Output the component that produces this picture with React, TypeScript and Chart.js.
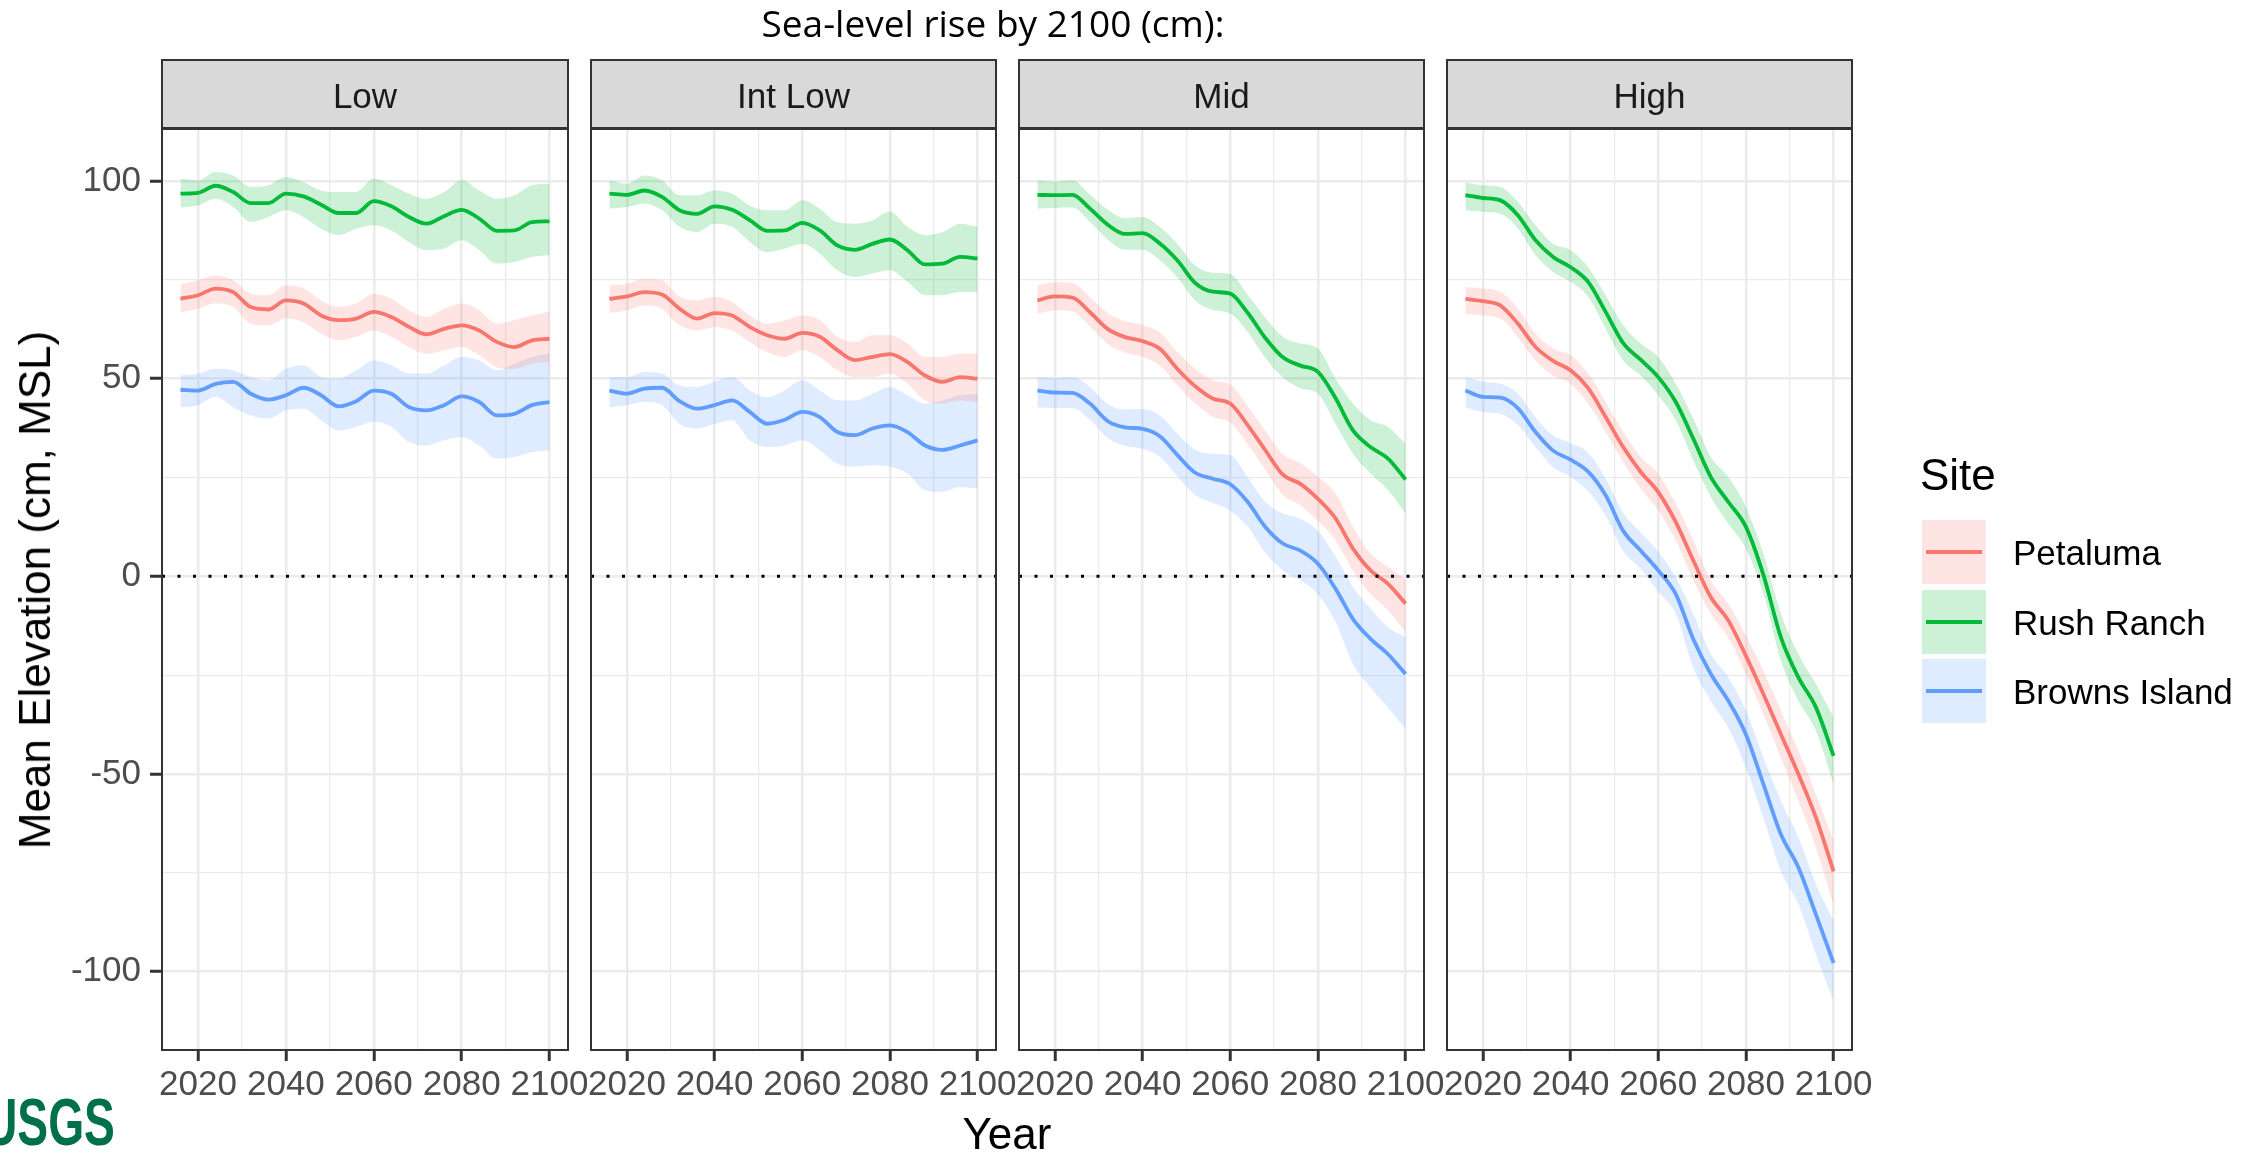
import React, { useEffect, useRef } from "react";
import { Chart, registerables } from "chart.js";

Chart.register(...registerables);

// ---------------- data ----------------
const YEARS = [2016, 2020, 2024, 2028, 2032, 2036, 2040, 2044, 2048, 2052, 2056, 2060, 2064, 2068, 2072, 2076, 2080, 2084, 2088, 2092, 2096, 2100];

const X_TICKS = [2020, 2030, 2040, 2050, 2060, 2070, 2080, 2090, 2100];
const X_LABEL_TICKS = [2020, 2040, 2060, 2080, 2100];
const Y_TICKS = [-100, -75, -50, -25, 0, 25, 50, 75, 100];
const Y_LABEL_TICKS = [-100, -50, 0, 50, 100];

const SCENARIOS = ["Low", "Int Low", "Mid", "High"];
const SITE_NAMES = ["Petaluma", "Rush Ranch", "Browns Island"];

// Low
const LOW_PET_MEAN = [70.2, 71.1, 72.8, 71.9, 68.1, 67.5, 69.8, 69.0, 66.0, 64.8, 65.2, 66.9, 65.6, 63.1, 61.2, 62.6, 63.5, 62.2, 59.3, 58.0, 59.7, 60.1];
const LOW_PET_LO = [66.9, 67.7, 69.1, 68.1, 63.9, 63.5, 65.2, 64.3, 61.4, 59.7, 60.6, 62.2, 60.6, 58.0, 56.3, 57.2, 58.0, 55.9, 52.9, 52.5, 53.8, 54.2];
const LOW_PET_HI = [73.9, 74.9, 76.1, 74.9, 71.5, 71.1, 73.6, 72.8, 69.8, 68.1, 69.0, 71.5, 70.2, 67.3, 65.6, 67.7, 69.0, 67.3, 63.9, 64.8, 66.0, 66.9];
const LOW_RUSH_MEAN = [96.8, 97.0, 98.8, 97.2, 94.4, 94.4, 96.8, 96.1, 94.0, 91.9, 91.9, 94.9, 93.6, 90.9, 89.2, 91.1, 92.7, 90.5, 87.4, 87.5, 89.6, 89.8];
const LOW_RUSH_LO = [93.3, 93.8, 95.5, 93.4, 89.6, 90.9, 92.6, 90.9, 87.9, 86.3, 87.9, 88.8, 87.5, 84.6, 82.5, 82.9, 85.0, 82.5, 79.1, 79.5, 80.8, 81.2];
const LOW_RUSH_HI = [100.6, 100.2, 102.3, 101.4, 98.5, 98.9, 101.0, 99.7, 97.6, 97.2, 97.2, 100.6, 98.9, 96.8, 95.5, 97.2, 100.2, 97.6, 95.5, 96.4, 98.9, 99.3];
const LOW_BROWNS_MEAN = [47.2, 47.0, 48.7, 49.2, 46.2, 44.7, 45.8, 47.7, 45.8, 43.0, 44.3, 47.0, 46.2, 42.8, 42.0, 43.3, 45.5, 44.1, 40.7, 41.1, 43.3, 44.1];
const LOW_BROWNS_LO = [42.8, 43.3, 45.4, 42.8, 40.7, 39.9, 42.0, 42.4, 39.5, 36.9, 37.8, 39.1, 37.8, 34.0, 33.1, 34.4, 35.2, 33.1, 29.8, 30.2, 31.4, 31.9];
const LOW_BROWNS_HI = [50.8, 51.3, 52.5, 52.1, 50.4, 49.6, 52.5, 53.4, 50.4, 50.0, 52.1, 54.6, 53.4, 51.3, 51.3, 53.4, 55.5, 54.6, 52.1, 53.8, 55.5, 56.3];

// Int Low
const IL_PET_MEAN = [70.2, 70.8, 71.9, 71.3, 67.7, 65.2, 66.6, 66.0, 63.1, 61.0, 60.1, 61.6, 60.6, 57.2, 54.7, 55.5, 56.2, 54.2, 50.8, 49.2, 50.4, 50.0];
const IL_PET_LO = [66.6, 67.3, 68.5, 67.7, 63.5, 62.2, 63.1, 62.2, 59.3, 56.7, 55.5, 57.2, 55.5, 52.1, 50.4, 50.4, 51.3, 48.7, 44.5, 43.7, 44.5, 44.1];
const IL_PET_HI = [73.6, 74.0, 75.3, 74.9, 70.7, 69.8, 70.7, 69.4, 66.0, 63.9, 64.8, 66.0, 64.8, 60.6, 59.3, 61.0, 61.0, 58.9, 55.5, 55.5, 56.3, 56.3];
const IL_RUSH_MEAN = [96.8, 96.5, 97.6, 96.0, 92.6, 91.7, 93.6, 92.7, 90.1, 87.4, 87.5, 89.4, 87.5, 83.7, 82.6, 84.1, 85.2, 82.5, 78.9, 79.1, 80.8, 80.4];
const IL_RUSH_LO = [93.0, 93.4, 94.3, 92.6, 88.4, 87.1, 89.2, 88.4, 84.6, 82.0, 82.9, 84.1, 81.6, 77.4, 75.7, 76.6, 77.4, 74.5, 71.1, 71.1, 71.9, 71.9];
const IL_RUSH_HI = [100.2, 99.3, 101.4, 100.2, 96.4, 96.4, 97.6, 96.8, 93.8, 92.6, 92.6, 95.1, 93.0, 89.6, 89.2, 90.1, 92.2, 88.4, 86.3, 87.1, 89.2, 88.4];
const IL_BROWNS_MEAN = [47.0, 46.2, 47.5, 47.7, 44.3, 42.4, 43.3, 44.5, 41.6, 38.6, 39.6, 41.6, 40.3, 36.5, 35.7, 37.4, 38.2, 36.5, 33.1, 32.0, 33.1, 34.4];
const IL_BROWNS_LO = [42.8, 43.3, 44.1, 43.3, 38.6, 37.4, 38.6, 39.5, 34.4, 32.7, 33.1, 34.4, 31.9, 28.5, 27.7, 28.1, 27.7, 26.0, 21.8, 21.4, 22.6, 22.2];
const IL_BROWNS_HI = [50.4, 50.4, 51.7, 51.3, 48.3, 47.9, 49.2, 50.4, 47.0, 45.3, 47.0, 49.6, 47.0, 44.5, 44.5, 46.2, 47.9, 45.8, 43.7, 44.5, 45.8, 46.2];

// Mid
const MID_PET_MEAN = [69.8, 70.8, 70.5, 66.8, 62.6, 60.5, 59.5, 57.5, 52.4, 48.1, 45.0, 43.7, 38.2, 31.9, 25.7, 23.4, 19.6, 14.7, 7.0, 1.5, -1.9, -6.9];
const MID_PET_LO = [66.4, 67.3, 67.0, 63.2, 58.8, 56.6, 55.5, 53.3, 48.2, 43.7, 40.4, 38.9, 33.4, 27.0, 20.6, 18.0, 14.0, 9.2, 1.5, -4.4, -8.6, -14.2];
const MID_PET_HI = [73.6, 74.4, 74.2, 70.6, 66.6, 64.5, 63.6, 61.6, 56.6, 52.5, 49.6, 48.5, 43.0, 36.8, 30.8, 28.6, 25.2, 21.0, 12.5, 5.8, 2.4, -1.0];
const MID_RUSH_MEAN = [96.5, 96.4, 96.5, 93.0, 89.0, 86.6, 86.8, 84.1, 79.8, 74.2, 72.0, 71.5, 66.6, 60.3, 55.4, 53.3, 51.7, 45.1, 36.9, 32.7, 29.8, 24.5];
const MID_RUSH_LO = [93.0, 93.2, 93.3, 89.6, 85.2, 82.6, 82.6, 79.9, 75.5, 69.8, 67.4, 66.5, 61.8, 55.2, 50.3, 47.6, 46.2, 38.6, 31.0, 26.0, 21.8, 15.9];
const MID_RUSH_HI = [100.2, 99.8, 100.2, 96.5, 92.8, 90.6, 90.9, 88.3, 84.0, 78.6, 76.8, 76.5, 71.2, 65.4, 60.6, 58.9, 57.6, 50.0, 43.7, 39.5, 37.8, 33.6];
const MID_BROWNS_MEAN = [47.0, 46.5, 46.4, 43.7, 39.3, 37.7, 37.3, 35.4, 30.6, 26.2, 24.7, 23.3, 18.8, 12.5, 8.3, 6.5, 3.2, -3.1, -10.8, -15.8, -19.7, -24.7];
const MID_BROWNS_LO = [42.8, 42.6, 42.6, 39.6, 35.0, 33.0, 32.3, 30.2, 25.2, 20.6, 18.6, 16.6, 12.6, 6.0, 1.5, -1.0, -4.5, -11.5, -22.2, -28.1, -33.2, -38.7];
const MID_BROWNS_HI = [50.4, 50.2, 50.4, 47.8, 43.6, 42.2, 42.3, 40.6, 36.0, 32.0, 31.0, 30.6, 25.0, 18.8, 15.9, 14.6, 11.5, 5.0, -2.7, -8.2, -12.9, -15.4];

// High
const HIGH_PET_MEAN = [70.2, 69.6, 68.5, 63.9, 58.0, 54.5, 52.1, 47.6, 40.3, 32.7, 26.4, 21.3, 13.7, 4.0, -5.3, -11.2, -20.1, -29.8, -40.0, -50.1, -61.1, -74.6];
const HIGH_PET_LO = [66.4, 66.0, 65.2, 60.5, 54.6, 50.8, 48.7, 43.7, 36.5, 28.9, 22.2, 16.7, 9.1, -1.0, -9.5, -15.5, -24.7, -34.9, -45.9, -56.8, -68.7, -83.0];
const HIGH_PET_HI = [73.2, 72.8, 71.9, 67.7, 61.4, 57.6, 55.9, 51.3, 44.1, 36.5, 30.2, 25.9, 18.4, 9.1, -1.1, -7.0, -15.0, -23.9, -34.0, -44.2, -55.2, -67.0];
const HIGH_RUSH_MEAN = [96.4, 95.7, 95.1, 91.3, 85.0, 80.8, 78.2, 74.5, 66.9, 59.0, 54.8, 50.4, 44.1, 34.8, 25.1, 18.8, 12.5, 0.3, -15.5, -25.6, -33.2, -45.4];
const HIGH_RUSH_LO = [92.6, 92.2, 91.7, 87.9, 81.2, 77.0, 74.5, 70.7, 62.6, 54.6, 50.8, 45.8, 39.5, 29.3, 20.1, 13.3, 7.0, -4.4, -21.4, -31.5, -39.1, -52.6];
const HIGH_RUSH_HI = [99.7, 98.9, 98.5, 94.7, 88.8, 84.1, 82.5, 78.2, 71.1, 63.5, 58.9, 55.5, 48.7, 39.9, 30.2, 25.1, 17.5, 5.7, -9.5, -19.7, -27.3, -35.7];
const HIGH_BROWNS_MEAN = [47.0, 45.4, 45.2, 42.5, 36.5, 31.8, 29.5, 26.5, 20.5, 11.5, 6.5, 1.5, -4.5, -15.9, -24.7, -31.5, -40.0, -52.6, -65.3, -73.7, -85.6, -97.8];
const HIGH_BROWNS_LO = [42.8, 41.6, 41.1, 38.2, 32.7, 27.6, 25.2, 21.5, 15.4, 6.4, 1.9, -3.9, -9.5, -23.1, -31.5, -38.3, -48.4, -61.1, -74.6, -83.0, -95.7, -107.5];
const HIGH_BROWNS_HI = [50.4, 49.2, 48.7, 46.2, 40.2, 35.6, 33.7, 31.2, 24.7, 16.1, 11.1, 6.2, -0.3, -9.5, -19.7, -25.6, -34.0, -45.9, -56.8, -66.1, -77.9, -87.2];

const SCENARIO_SERIES = [
  [[LOW_PET_MEAN, LOW_PET_LO, LOW_PET_HI], [LOW_RUSH_MEAN, LOW_RUSH_LO, LOW_RUSH_HI], [LOW_BROWNS_MEAN, LOW_BROWNS_LO, LOW_BROWNS_HI]],
  [[IL_PET_MEAN, IL_PET_LO, IL_PET_HI], [IL_RUSH_MEAN, IL_RUSH_LO, IL_RUSH_HI], [IL_BROWNS_MEAN, IL_BROWNS_LO, IL_BROWNS_HI]],
  [[MID_PET_MEAN, MID_PET_LO, MID_PET_HI], [MID_RUSH_MEAN, MID_RUSH_LO, MID_RUSH_HI], [MID_BROWNS_MEAN, MID_BROWNS_LO, MID_BROWNS_HI]],
  [[HIGH_PET_MEAN, HIGH_PET_LO, HIGH_PET_HI], [HIGH_RUSH_MEAN, HIGH_RUSH_LO, HIGH_RUSH_HI], [HIGH_BROWNS_MEAN, HIGH_BROWNS_LO, HIGH_BROWNS_HI]],
];

// ---------------- styling / layout ----------------
const SITE_COLORS = ["#F8766D", "#00BA38", "#619CFF"];
const SITE_FILLS = ["rgba(248,118,109,0.2)", "rgba(0,186,56,0.2)", "rgba(97,156,255,0.2)"];

const W = 2260;
const H = 1153;
const PANEL_LEFT = [162, 591, 1019, 1447];
const PANEL_RIGHT = [568, 996, 1424, 1852];
const PLOT_TOP = 129;
const PLOT_BOTTOM = 1050;
const STRIP_TOP = 60;
const Y_AXIS_W = 140;
const X_AXIS_H = 70;
const X_MIN = 2011.8;
const X_MAX = 2104.2;
const Y_MIN = -119.8;
const Y_MAX = 113.15;

const SANS = '"Liberation Sans", Arial, sans-serif';

const panelPlugin = {
  id: "panelDecor",
  afterDatasetsDraw(chart: any) {
    const { ctx, chartArea, scales } = chart;
    const y0 = scales.y.getPixelForValue(0);
    ctx.save();
    ctx.beginPath();
    ctx.setLineDash([3, 12.5]);
    ctx.lineWidth = 3;
    ctx.strokeStyle = "#000000";
    ctx.moveTo(chartArea.left, y0);
    ctx.lineTo(chartArea.right, y0);
    ctx.stroke();
    ctx.restore();
  },
  afterDraw(chart: any, _args: any, opts: any) {
    const { ctx, chartArea } = chart;
    const w = chartArea.right - chartArea.left;
    ctx.save();
    ctx.setLineDash([]);
    // strip
    ctx.fillStyle = "#D9D9D9";
    ctx.fillRect(chartArea.left, STRIP_TOP, w, chartArea.top - STRIP_TOP);
    ctx.lineWidth = 2;
    ctx.strokeStyle = "#333333";
    ctx.strokeRect(chartArea.left, STRIP_TOP, w, chartArea.top - STRIP_TOP - 1);
    ctx.fillStyle = "#1A1A1A";
    ctx.font = `35px ${SANS}`;
    ctx.textAlign = "center";
    ctx.textBaseline = "alphabetic";
    ctx.fillText(opts.label, chartArea.left + w / 2, 108);
    // panel border
    ctx.lineWidth = 2;
    ctx.strokeStyle = "#333333";
    ctx.strokeRect(chartArea.left, chartArea.top, w, chartArea.bottom - chartArea.top);
    ctx.restore();
  },
};

function buildConfig(p: number): any {
  const series = SCENARIO_SERIES[p];
  const pts = (arr: number[]) => YEARS.map((x, k) => ({ x, y: arr[k] }));
  const datasets: any[] = [];
  series.forEach(([, lo, hi], s) => {
    datasets.push({
      label: SITE_NAMES[s] + " upper",
      data: pts(hi),
      fill: "+1",
      backgroundColor: SITE_FILLS[s],
      borderColor: "rgba(0,0,0,0)",
      borderWidth: 0,
      pointRadius: 0,
      cubicInterpolationMode: "monotone",
    });
    datasets.push({
      label: SITE_NAMES[s] + " lower",
      data: pts(lo),
      fill: false,
      backgroundColor: "rgba(0,0,0,0)",
      borderColor: "rgba(0,0,0,0)",
      borderWidth: 0,
      pointRadius: 0,
      cubicInterpolationMode: "monotone",
    });
  });
  series.forEach(([mean], s) => {
    datasets.push({
      label: SITE_NAMES[s],
      data: pts(mean),
      fill: false,
      borderColor: SITE_COLORS[s],
      borderWidth: 3.8,
      pointRadius: 0,
      cubicInterpolationMode: "monotone",
    });
  });

  const isMajorX = (v: number) => X_LABEL_TICKS.includes(v);
  const isMajorY = (v: number) => Y_LABEL_TICKS.includes(v);

  return {
    type: "line",
    data: { datasets },
    plugins: [panelPlugin],
    options: {
      responsive: false,
      animation: false,
      events: [],
      devicePixelRatio: 1,
      layout: {
        padding: {
          left: PANEL_LEFT[p] - (p === 0 ? Y_AXIS_W : 0),
          right: W - PANEL_RIGHT[p],
          top: PLOT_TOP,
          bottom: H - PLOT_BOTTOM - X_AXIS_H,
        },
      },
      plugins: {
        legend: { display: false },
        tooltip: { enabled: false },
        title: { display: false },
        filler: { drawTime: "beforeDatasetsDraw", propagate: false },
        panelDecor: { label: SCENARIOS[p] },
      },
      scales: {
        x: {
          type: "linear",
          min: X_MIN,
          max: X_MAX,
          afterBuildTicks: (axis: any) => {
            axis.ticks = X_TICKS.map((v) => ({ value: v }));
          },
          afterFit: (axis: any) => {
            axis.height = X_AXIS_H;
          },
          border: { display: false },
          grid: {
            color: "#EBEBEB",
            lineWidth: (c: any) => (c.tick && isMajorX(c.tick.value) ? 2.5 : 1.3),
            drawTicks: true,
            tickLength: 11,
            tickColor: (c: any) => (c.tick && isMajorX(c.tick.value) ? "#333333" : "rgba(0,0,0,0)"),
            tickWidth: (c: any) => (c.tick && isMajorX(c.tick.value) ? 3 : 1),
          },
          ticks: {
            autoSkip: false,
            maxRotation: 0,
            minRotation: 0,
            padding: 3,
            color: "#4D4D4D",
            font: { family: SANS, size: 35 },
            callback: (v: number) => (isMajorX(v) ? String(v) : ""),
          },
        },
        y: {
          type: "linear",
          min: Y_MIN,
          max: Y_MAX,
          afterBuildTicks: (axis: any) => {
            axis.ticks = Y_TICKS.map((v) => ({ value: v }));
          },
          afterFit: (axis: any) => {
            axis.width = p === 0 ? Y_AXIS_W : 0;
          },
          border: { display: false },
          grid: {
            color: "#EBEBEB",
            lineWidth: (c: any) => (c.tick && isMajorY(c.tick.value) ? 2.5 : 1.3),
            drawTicks: p === 0,
            tickLength: 12,
            tickColor: (c: any) => (c.tick && isMajorY(c.tick.value) ? "#333333" : "rgba(0,0,0,0)"),
            tickWidth: (c: any) => (c.tick && isMajorY(c.tick.value) ? 3 : 1),
          },
          ticks: {
            display: p === 0,
            autoSkip: false,
            padding: 9,
            color: "#4D4D4D",
            font: { family: SANS, size: 35 },
            callback: (v: number) => (isMajorY(v) ? String(v) : ""),
          },
        },
      },
    },
  };
}

export default function App() {
  const refs = useRef<(HTMLCanvasElement | null)[]>([]);

  useEffect(() => {
    const charts: Chart[] = [];
    SCENARIOS.forEach((_, p) => {
      const el = refs.current[p];
      if (el) charts.push(new Chart(el, buildConfig(p)));
    });
    return () => charts.forEach((c) => c.destroy());
  }, []);

  const keyTops = [520, 590, 659];

  return (
    <div style={{ position: "absolute", left: 0, top: 0, width: W, height: H, overflow: "hidden", background: "#ffffff", fontFamily: SANS }}>
      {SCENARIOS.map((s, p) => (
        <canvas
          key={s}
          ref={(el) => {
            refs.current[p] = el;
          }}
          width={W}
          height={H}
          style={{ position: "absolute", left: 0, top: 0, width: W, height: H }}
        />
      ))}

      {/* title */}
      <div style={{ position: "absolute", left: 993, top: 4, transform: "translateX(-50%)", whiteSpace: "nowrap", fontFamily: '"Open Sans", sans-serif', fontSize: 37, lineHeight: "37px", color: "#000" }}>
        Sea-level rise by 2100 (cm):
      </div>

      {/* y axis title */}
      <div style={{ position: "absolute", left: 35, top: 590, transform: "translate(-50%, -50%) rotate(-90deg)", whiteSpace: "nowrap", fontSize: 44, lineHeight: "44px", color: "#000" }}>
        Mean Elevation (cm, MSL)
      </div>

      {/* x axis title */}
      <div style={{ position: "absolute", left: 1007, top: 1112, transform: "translateX(-50%)", whiteSpace: "nowrap", fontSize: 44, lineHeight: "44px", color: "#000" }}>
        Year
      </div>

      {/* legend */}
      <div style={{ position: "absolute", left: 1920, top: 453, whiteSpace: "nowrap", fontSize: 44, lineHeight: "44px", color: "#000" }}>Site</div>
      {SITE_NAMES.map((name, s) => (
        <React.Fragment key={name}>
          <div style={{ position: "absolute", left: 1922, top: keyTops[s], width: 64, height: 64, background: SITE_FILLS[s] }}>
            <div style={{ position: "absolute", left: 4, top: 30, width: 56, height: 4, background: SITE_COLORS[s] }} />
          </div>
          <div style={{ position: "absolute", left: 2013, top: keyTops[s] + 32 + 12.5 - 29.6, whiteSpace: "nowrap", fontSize: 35, lineHeight: "35px", color: "#000" }}>
            {name}
          </div>
        </React.Fragment>
      ))}

      {/* logo */}
      <div style={{ position: "absolute", left: -16, top: 1089, transform: "scaleX(0.7)", transformOrigin: "left top", whiteSpace: "nowrap", fontWeight: 700, fontSize: 66, lineHeight: "66px", color: "#00704A" }}>
        USGS
      </div>
    </div>
  );
}
